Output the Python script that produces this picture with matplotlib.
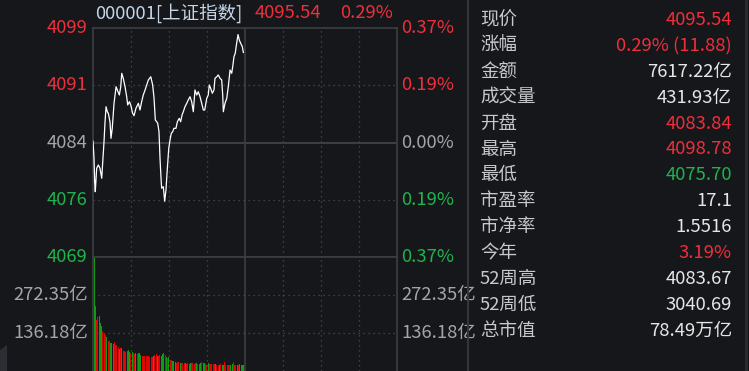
import matplotlib
matplotlib.use("Agg")
import matplotlib.pyplot as plt
from matplotlib.lines import Line2D
from matplotlib.patches import Polygon

plt.rcParams["font.family"] = ["Noto Sans CJK SC", "DejaVu Sans"]

# ---- data ----
code_name = "000001[上证指数]"
last_price = 4095.54
prev_close = 4083.66
pct_limit = 0.37

minutes = [0, 0.8, 1.3, 1.8, 2.9, 4.2, 5.5, 6.9, 7.7, 8.7,
           9.5, 10.3, 11.3, 12.1, 13.4, 14.2, 15.2, 16.6, 18.2, 19.2,
           20.8, 21.9, 22.7, 23.9, 25.3, 26.6, 27.4, 28.7, 29.8, 31.3,
           32.4, 33.9, 35.8, 37.1, 38.4, 39.7, 41.1, 42.4, 43.7, 45.6,
           47.1, 48.2, 49.2, 50.3, 51.1, 52.1, 52.9, 53.7, 54.2, 55.5,
           56.6, 57.6, 58.7, 59.8, 60.8, 61.8, 62.9, 63.9, 65.5, 66.6,
           68.1, 69.2, 70.3, 71.3, 72.6, 74.0, 75.2, 76.6, 77.9, 79.2,
           80.5, 81.9, 83.1, 84.5, 85.8, 87.1, 88.2, 89.8, 91.0, 91.8,
           92.9, 94.2, 95.5, 96.3, 97.7, 98.9, 100.3, 101.6, 102.4, 102.9,
           104.2, 105.6, 106.8, 108.2, 109.5, 110.3, 111.3, 112.3, 113.4, 114.5,
           115.5, 116.6, 117.9, 118.7]
prices = [4083.84, 4081.58, 4078.49, 4077.17, 4080.26, 4080.69, 4080.26, 4078.94, 4081.13, 4083.77,
          4086.40, 4088.38, 4087.72, 4087.51, 4086.40, 4084.21, 4085.53, 4088.83, 4091.02, 4090.59,
          4089.93, 4091.02, 4092.79, 4092.13, 4091.02, 4089.70, 4088.61, 4089.04, 4088.61, 4087.51,
          4087.20, 4088.17, 4088.83, 4087.95, 4089.04, 4089.93, 4090.59, 4091.25, 4091.91, 4092.34,
          4091.25, 4089.49, 4086.63, 4086.40, 4086.19, 4085.08, 4081.58, 4078.94, 4077.62, 4077.83,
          4075.90, 4077.39, 4080.26, 4082.89, 4083.99, 4084.87, 4085.08, 4085.53, 4085.53, 4086.40,
          4086.85, 4086.40, 4087.29, 4087.72, 4088.38, 4088.83, 4089.27, 4089.70, 4089.04, 4087.72,
          4090.59, 4089.93, 4090.36, 4089.70, 4088.83, 4087.95, 4087.95, 4089.49, 4089.93, 4091.25,
          4090.81, 4090.15, 4090.59, 4092.13, 4092.34, 4092.57, 4092.13, 4091.91, 4089.93, 4087.72,
          4088.83, 4089.49, 4091.02, 4093.22, 4092.79, 4093.66, 4094.98, 4095.43, 4096.75, 4097.90,
          4097.18, 4096.75, 4096.30, 4095.54]
assert len(minutes) == len(prices)

# volume per minute, in 亿
volumes = [404, 233, 183, 195, 197, 173, 161, 145, 135, 129,
           121, 109, 109, 101, 99, 97, 105, 93, 93, 87,
           78, 81, 81, 72, 73, 69, 73, 75, 69, 66,
           69, 63, 61, 66, 61, 63, 66, 59, 54, 54,
           54, 54, 54, 54, 49, 49, 51, 54, 57, 61,
           54, 54, 57, 54, 61, 66, 57,
           49, 45, 49, 39, 39, 36, 36, 33, 30, 32,
           32, 30, 30, 27, 27, 27, 25, 27, 25, 27,
           27, 27, 25, 27, 27, 25, 25, 27, 31, 27,
           27, 25, 23, 27, 25, 25, 25, 25, 25, 25,
           23, 23, 23, 25, 23, 20, 32, 20, 20, 20,
           20, 20, 25, 32, 23, 20, 20, 23, 25, 21,
           20, 20]
vol_up = ("GGRRGGGRRRGRRGGGRRRRGRGRRRGGGRGRRGRGGGRRRRRRRRRGRRGRRGGGR"
          "GRGRRGGGRRRGRRRGRRGGRRRRGRGGRGGRRGRRRRRGRRGRGGRRRRRGGRRRGRGGGG")
assert len(volumes) == len(vol_up)
vol_top = 408.53
vol_ticks = [136.18, 272.35]

info_labels = ["现价", "涨幅", "金额", "成交量", "开盘", "最高", "最低",
               "市盈率", "市净率", "今年", "52周高", "52周低", "总市值"]
info_values = ["4095.54", "0.29% (11.88)", "7617.22亿", "431.93亿", "4083.84",
               "4098.78", "4075.70", "17.1", "1.5516", "3.19%", "4083.67",
               "3040.69", "78.49万亿"]
info_kinds = ["up", "up", "flat", "flat", "up", "up", "down",
              "flat", "flat", "up", "flat", "flat", "flat"]

# ---- style ----
BG = "#15171b"
RED = "#ee2f3b"
GREEN = "#1fb44b"
GRAY = "#a3a5a8"
LABEL = "#c6c8cb"
WHITE = "#e6e6e6"
FRAME = "#3c3e43"
DOT = "#4b4e54"
BAR_RED = "#dc0808"
BAR_GREEN = "#129a12"
FS = 13.3
kind_color = {"up": RED, "down": GREEN, "flat": WHITE}

W, H = 749, 371
fig = plt.figure(figsize=(W / 100, H / 100), dpi=100, facecolor=BG)


def fx(px):
    return px / W


def fy(py):
    return 1 - py / H


left, right = 93, 397
ax = fig.add_axes([fx(left), fy(257), fx(right - left), (257 - 28) / H])
axv = fig.add_axes([fx(left), 0, fx(right - left), (371 - 257) / H])

span = prev_close * pct_limit / 100
half = span / 2

for a in (ax, axv):
    a.set_facecolor(BG)
    a.set_xlim(0, 240)
    a.set_xticks([])
    a.set_yticks([])
    for s in a.spines.values():
        s.set_color(FRAME)
        s.set_linewidth(1.2)
    for m in (30, 60, 90, 150, 180, 210):
        a.axvline(m, color=DOT, lw=0.9, ls=(0, (1, 3)), zorder=1)
    a.axvline(120, color=FRAME, lw=1.2, zorder=1)
axv.spines["bottom"].set_visible(False)

ax.set_ylim(prev_close - span, prev_close + span)
ax.axhline(prev_close, color=FRAME, lw=1.5, zorder=1)
for v in (prev_close + half, prev_close - half):
    ax.axhline(v, color=DOT, lw=0.9, ls=(0, (1, 3)), zorder=1)
ax.plot(minutes, prices, color="white", lw=0.9, zorder=3)

axv.set_ylim(0, vol_top)
for v in vol_ticks:
    axv.axhline(v, color=DOT, lw=0.9, ls=(0, (1, 3)), zorder=1)
xs = [i + 0.85 for i in range(len(volumes))]
cols = [BAR_GREEN if c == "G" else BAR_RED for c in vol_up]
axv.bar(xs, volumes, width=0.8, color=cols, linewidth=0, zorder=2)

# price axis labels
levels = [prev_close + span, prev_close + half, prev_close,
          prev_close - half, prev_close - span]
pcts = ["0.37%", "0.19%", "0.00%", "0.19%", "0.37%"]
lcols = [RED, RED, GRAY, GREEN, GREEN]
for lv, pc, c in zip(levels, pcts, lcols):
    ax.text(-0.017, lv, f"{lv:.0f}", transform=ax.get_yaxis_transform(),
            ha="right", va="center", color=c, fontsize=FS)
    ax.text(1.013, lv, pc, transform=ax.get_yaxis_transform(),
            ha="left", va="center", color=c, fontsize=FS)
for v in vol_ticks:
    axv.text(-0.017, v, f"{v:.2f}亿", transform=axv.get_yaxis_transform(),
             ha="right", va="center", color=GRAY, fontsize=FS)
    axv.text(1.013, v, f"{v:.2f}亿", transform=axv.get_yaxis_transform(),
             ha="left", va="center", color=GRAY, fontsize=FS)

# title row
fig.text(fx(95), fy(13), code_name, ha="left", va="center", color="#c5d5e6", fontsize=FS)
fig.text(fx(255), fy(13), f"{last_price:.2f}", ha="left", va="center", color=RED, fontsize=FS)
chg = (last_price - prev_close) / prev_close * 100
fig.text(fx(340), fy(13), f"{chg:.2f}%", ha="left", va="center", color=RED, fontsize=FS)

# right info panel
fig.add_artist(Line2D([fx(468), fx(468)], [0, 1], color="#34363b", lw=1.5))
fig.add_artist(Line2D([fx(746), fx(746)], [0, 1], color="#2a2c30", lw=2))
for i, (lab, val, k) in enumerate(zip(info_labels, info_values, info_kinds)):
    y = fy(20 + 25.9 * i)
    fig.text(fx(480), y, lab, ha="left", va="center", color=LABEL, fontsize=FS)
    fig.text(fx(732), y, val, ha="right", va="center", color=kind_color[k], fontsize=FS)

# small button at bottom-left corner
fig.add_artist(Polygon([(0, fy(350)), (fx(7), fy(345)), (fx(7), 0), (0, 0)],
                       closed=True, transform=fig.transFigure,
                       facecolor="#2c2e33", edgecolor="none"))

fig.savefig("out.png", dpi=100, facecolor=BG)
